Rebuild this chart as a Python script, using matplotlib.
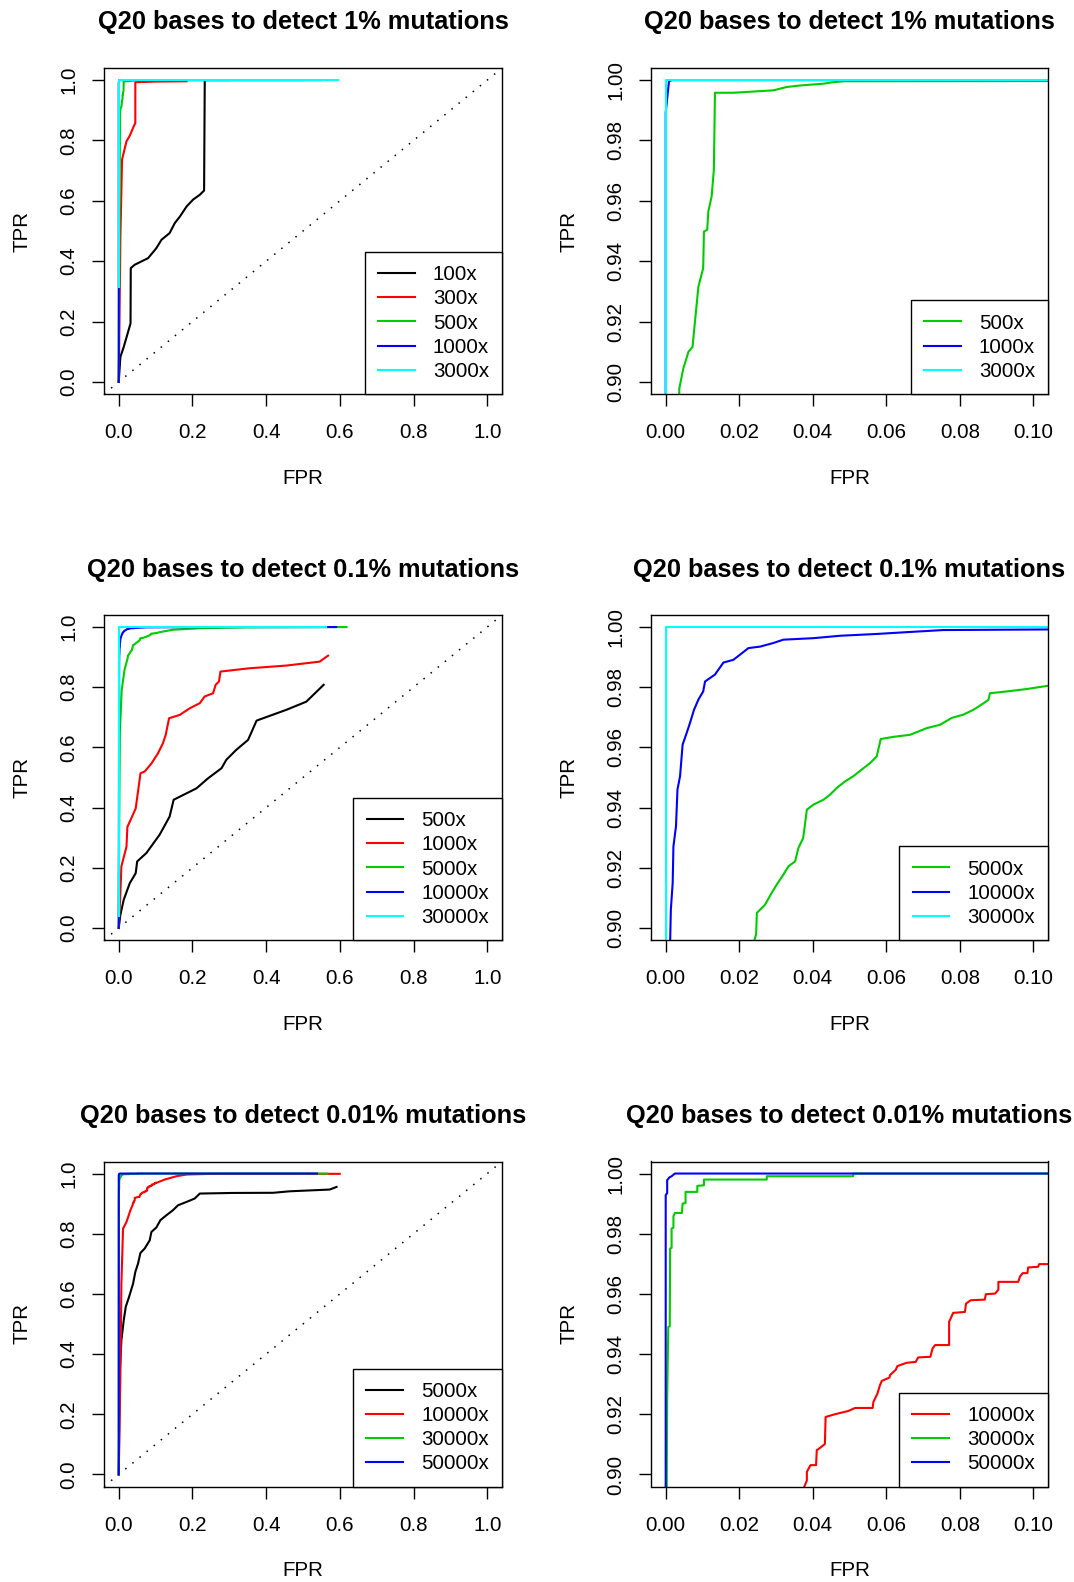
import numpy as np
import matplotlib.pyplot as plt

plt.rcParams['font.family'] = ['Liberation Sans', 'DejaVu Sans']

W, H = 1074, 1582

# ---------------------------------------------------------------------------
# ROC points (FPR, TPR)
# ---------------------------------------------------------------------------
# 1% mutations
fpr_1_100x = [0, 0.0045, 0.0136, 0.032, 0.0326, 0.043, 0.0796, 0.102, 0.116, 0.138,
              0.152, 0.166, 0.184, 0.2017, 0.22, 0.2316, 0.2334, 0.50]
tpr_1_100x = [0, 0.083, 0.116, 0.194, 0.377, 0.388, 0.41, 0.443, 0.471, 0.493,
              0.526, 0.548, 0.581, 0.604, 0.62, 0.634, 1.0, 1.0]
fpr_1_300x = [0, 0.002, 0.0045, 0.009, 0.021, 0.03, 0.039, 0.045, 0.045, 0.10, 0.184]
tpr_1_300x = [0, 0.2, 0.482, 0.737, 0.797, 0.816, 0.842, 0.858, 0.993, 0.995, 0.996]
fpr_1_500x = [0, 0.0015, 0.0037, 0.0048, 0.0062, 0.0073, 0.008, 0.0089, 0.0102, 0.0104,
              0.0113, 0.0116, 0.0125, 0.0131, 0.0134, 0.0184, 0.0293, 0.0329, 0.0365,
              0.0429, 0.0456, 0.0485, 0.3]
tpr_1_500x = [0, 0.5, 0.8978, 0.9045, 0.910, 0.9116, 0.9205, 0.9316, 0.9377, 0.9498,
              0.9504, 0.9565, 0.9615, 0.9703, 0.9958, 0.9958, 0.9966, 0.9977, 0.9982,
              0.9988, 0.9993, 0.9996, 1.0]
fpr_1_1000x = [0, 0.0, 0.0009, 0.0018, 0.55]
tpr_1_1000x = [0, 0.9892, 0.99967, 1.0, 1.0]
fpr_1_3000x = [0, 0, 0.594]
tpr_1_3000x = [0.316, 1.0, 1.0]

# 0.1% mutations
fpr_01_500x = [0, 0.0045, 0.0136, 0.03, 0.046, 0.05, 0.075, 0.111, 0.138, 0.149, 0.211,
               0.242, 0.279, 0.292, 0.319, 0.351, 0.374, 0.455, 0.509, 0.556]
tpr_01_500x = [0, 0.044, 0.094, 0.149, 0.182, 0.221, 0.249, 0.31, 0.37, 0.426, 0.464,
               0.497, 0.531, 0.559, 0.592, 0.625, 0.689, 0.725, 0.752, 0.808]
fpr_01_1000x = [0, 0.0045, 0.0072, 0.021, 0.0235, 0.034, 0.046, 0.059, 0.0705, 0.089,
                0.1067, 0.12, 0.1275, 0.1366, 0.1655, 0.1927, 0.22, 0.233, 0.256, 0.263,
                0.272, 0.276, 0.355, 0.455, 0.545, 0.568]
tpr_01_1000x = [0, 0.117, 0.205, 0.27, 0.336, 0.364, 0.397, 0.514, 0.52, 0.547,
                0.581, 0.614, 0.642, 0.697, 0.708, 0.730, 0.747, 0.769, 0.780, 0.808,
                0.819, 0.852, 0.863, 0.872, 0.885, 0.905]
fpr_01_5000x = [0, 0.001, 0.003, 0.008, 0.016, 0.0246, 0.0248, 0.027, 0.0288, 0.0302,
                0.032, 0.0334, 0.0352, 0.0361, 0.0374, 0.0384, 0.0402, 0.0429, 0.0447,
                0.0465, 0.0488, 0.051, 0.0533, 0.0556, 0.0574, 0.0585, 0.0619, 0.0665,
                0.071, 0.0746, 0.0778, 0.081, 0.0837, 0.0855, 0.0878, 0.0882, 0.0928,
                0.0982, 0.1041, 0.111, 0.147, 0.22, 0.35, 0.618]
tpr_01_5000x = [0, 0.3, 0.65, 0.79, 0.86, 0.898, 0.905, 0.9077, 0.9116, 0.9144,
                0.9177, 0.9205, 0.9221, 0.9266, 0.9299, 0.9393, 0.941, 0.9426, 0.9443,
                0.9465, 0.9487, 0.9504, 0.9526, 0.9548, 0.957, 0.9628, 0.9635, 0.9642,
                0.9664, 0.9675, 0.9698, 0.9709, 0.9725, 0.9739, 0.9758, 0.978, 0.9786,
                0.9794, 0.9805, 0.983, 0.991, 0.996, 0.999, 1.0]
fpr_01_10000x = [0, 0.001, 0.0012, 0.0014, 0.0019, 0.0021, 0.0028, 0.0032, 0.0039, 0.0046,
                 0.0057, 0.0066, 0.0077, 0.0089, 0.0102, 0.0107, 0.0134, 0.0157, 0.0184,
                 0.0202, 0.0225, 0.0257, 0.0293, 0.032, 0.0402, 0.0474, 0.0574, 0.0656,
                 0.0755, 0.1041, 0.25, 0.59]
tpr_01_10000x = [0, 0.85, 0.895, 0.9061, 0.915, 0.9271, 0.9338, 0.946, 0.9504, 0.9609,
                 0.9648, 0.9681, 0.9725, 0.9759, 0.9786, 0.9819, 0.9842, 0.9882, 0.9891,
                 0.9908, 0.993, 0.9935, 0.9947, 0.9958, 0.9963, 0.9971, 0.9977, 0.9983,
                 0.999, 0.9992, 0.9998, 1.0]
fpr_01_30000x = [0, 0, 0.5636]
tpr_01_30000x = [0.04, 1.0, 1.0]

# 0.01% mutations
fpr_001_5000x = [0, 0.0027, 0.0072, 0.0136, 0.019, 0.028, 0.039, 0.045, 0.0524, 0.0588,
                 0.0705, 0.084, 0.0887, 0.102, 0.113, 0.129, 0.147, 0.161, 0.184, 0.206,
                 0.22, 0.31, 0.419, 0.464, 0.5725, 0.591]
tpr_001_5000x = [0, 0.3355, 0.446, 0.5126, 0.557, 0.590, 0.6346, 0.673, 0.701, 0.736,
                 0.751, 0.778, 0.806, 0.8206, 0.845, 0.861, 0.878, 0.8947, 0.9057, 0.9169,
                 0.9335, 0.9355, 0.936, 0.941, 0.9468, 0.9555]
fpr_001_10000x = [0, 0.0045, 0.0072, 0.0117, 0.021, 0.0317, 0.0384, 0.0384, 0.0394, 0.0409,
                  0.0411, 0.0415, 0.0433, 0.0435, 0.046, 0.0497, 0.0515, 0.0563, 0.0565,
                  0.0576, 0.0583, 0.0588, 0.0609, 0.061, 0.0626, 0.063, 0.0655, 0.068,
                  0.0687, 0.072, 0.0726, 0.0733, 0.0771, 0.0771, 0.0782, 0.0814, 0.0817,
                  0.083, 0.0868, 0.0871, 0.0896, 0.0905, 0.0905, 0.0959, 0.0964, 0.0971,
                  0.0984, 0.0986, 0.1013, 0.1016, 0.1041, 0.1248, 0.1565, 0.184, 0.25, 0.5997]
tpr_001_10000x = [0, 0.3355, 0.6346, 0.817, 0.839, 0.878, 0.898, 0.9009, 0.9031, 0.9031,
                  0.9081, 0.9084, 0.9101, 0.9191, 0.92, 0.9211, 0.9221, 0.9221, 0.9241,
                  0.9269, 0.9297, 0.9311, 0.9322, 0.933, 0.9348, 0.936, 0.9371, 0.9374,
                  0.9389, 0.9391, 0.9419, 0.943, 0.943, 0.9507, 0.9537, 0.954, 0.9568,
                  0.9579, 0.9581, 0.9599, 0.9601, 0.9614, 0.964, 0.964, 0.9658, 0.9669,
                  0.9669, 0.9688, 0.969, 0.9699, 0.9699, 0.98, 0.991, 0.9967, 0.999, 0.999]
fpr_001_30000x = [0, 0.0003, 0.0004, 0.0007, 0.0011, 0.0012, 0.0016, 0.0016, 0.0021, 0.0021,
                  0.0025, 0.0044, 0.0046, 0.0054, 0.0054, 0.0086, 0.0086, 0.0104, 0.0104,
                  0.0275, 0.0275, 0.051, 0.051, 0.566]
tpr_001_30000x = [0, 0.9, 0.9252, 0.949, 0.9492, 0.9751, 0.9753, 0.9817, 0.982, 0.9858,
                  0.9869, 0.9869, 0.99, 0.9902, 0.9939, 0.9939, 0.9959, 0.9961, 0.998,
                  0.998, 0.9991, 0.9991, 1.0, 1.0]
fpr_001_50000x = [0, 0, 0.0004, 0.0004, 0.001, 0.0016, 0.0025, 0.538]
tpr_001_50000x = [0, 0.9928, 0.9935, 0.9978, 0.9987, 0.9991, 1.0, 1.0]

titles = ['Q20 bases to detect 1% mutations',
          'Q20 bases to detect 0.1% mutations',
          'Q20 bases to detect 0.01% mutations']

full_ticks = [0, 0.2, 0.4, 0.6, 0.8, 1.0]
zoom_xticks = [0, 0.02, 0.04, 0.06, 0.08, 0.10]
zoom_yticks = [0.90, 0.92, 0.94, 0.96, 0.98, 1.00]

BLACK, RED, GREEN, BLUE, CYAN = 'black', '#FF0000', '#00CD00', '#0000FF', '#00FFFF'

rows = [
    [(fpr_1_100x, tpr_1_100x, BLACK, '100x'),
     (fpr_1_300x, tpr_1_300x, RED, '300x'),
     (fpr_1_500x, tpr_1_500x, GREEN, '500x'),
     (fpr_1_1000x, tpr_1_1000x, BLUE, '1000x'),
     (fpr_1_3000x, tpr_1_3000x, CYAN, '3000x')],
    [(fpr_01_500x, tpr_01_500x, BLACK, '500x'),
     (fpr_01_1000x, tpr_01_1000x, RED, '1000x'),
     (fpr_01_5000x, tpr_01_5000x, GREEN, '5000x'),
     (fpr_01_10000x, tpr_01_10000x, BLUE, '10000x'),
     (fpr_01_30000x, tpr_01_30000x, CYAN, '30000x')],
    [(fpr_001_5000x, tpr_001_5000x, BLACK, '5000x'),
     (fpr_001_10000x, tpr_001_10000x, RED, '10000x'),
     (fpr_001_30000x, tpr_001_30000x, GREEN, '30000x'),
     (fpr_001_50000x, tpr_001_50000x, BLUE, '50000x')],
]
# the zoomed panels only show the better-covered curves
zoom_curves = [[2, 3, 4], [2, 3, 4], [1, 2, 3]]

FS = 14.8
TITLE_FS = 18.3
LW = 1.5

fig = plt.figure(figsize=(W / 100, H / 100), dpi=100)


def add_ax(x, y, w, h):
    return fig.add_axes([x / W, 1 - (y + h) / H, w / W, h / H])


def style_axes(ax, xlim, ylim, xt, yt, fmt, h_px, w_px):
    # R-style 4% padding around the data range
    for setter, (lo, hi) in [(ax.set_xlim, xlim), (ax.set_ylim, ylim)]:
        pad = 0.04 * (hi - lo)
        setter(lo - pad, hi + pad)
    ax.set_xticks(xt)
    ax.set_xticklabels([fmt.format(t) for t in xt])
    ax.set_yticks(yt)
    ax.set_yticklabels([fmt.format(t) for t in yt])
    for s in ['top', 'right', 'bottom', 'left']:
        ax.spines[s].set_linewidth(1.0)
    ax.tick_params(direction='out', length=8.6, width=1.0, labelsize=FS)
    ax.tick_params(axis='x', pad=12.5)
    ax.tick_params(axis='y', pad=10, labelrotation=90)
    for lab in ax.get_yticklabels():
        lab.set_va('center')
    ax.set_xlabel('FPR', fontsize=FS)
    ax.set_ylabel('TPR', fontsize=FS)
    ax.xaxis.set_label_coords(0.5, -84 / h_px)
    ax.xaxis.label.set_va('center')
    ax.yaxis.set_label_coords(-82 / w_px, 0.5)
    ax.yaxis.label.set_va('center')


def add_legend(ax):
    leg = ax.legend(loc='lower right', fontsize=FS, frameon=True, fancybox=False,
                    framealpha=1, edgecolor='black', borderaxespad=0,
                    borderpad=0.64, labelspacing=0.25, handlelength=1.78,
                    handletextpad=0.88)
    leg.get_frame().set_linewidth(1.0)


def add_title(ax, text, h_px):
    ax.text(0.5, 1 + 38.5 / h_px, text, transform=ax.transAxes,
            ha='center', va='baseline', fontsize=TITLE_FS, fontweight='bold')


row_tops = [68, 615, 1161.5]
row_h = [326, 325, 325]

for r in range(3):
    # full-range panel
    ax = add_ax(104, row_tops[r], 398, row_h[r])
    ax.axline((0, 0), (1, 1), color='black', lw=1.1, linestyle=(0, (1, 5)))
    for fpr, tpr, col, lab in rows[r]:
        ax.plot(fpr, tpr, color=col, lw=LW, label=lab)
    style_axes(ax, (0, 1), (0, 1), full_ticks, full_ticks, '{:.1f}', row_h[r], 398)
    add_legend(ax)
    add_title(ax, titles[r], row_h[r])

    # zoomed panel
    ax = add_ax(651, row_tops[r], 397, row_h[r])
    for i in zoom_curves[r]:
        fpr, tpr, col, lab = rows[r][i]
        ax.plot(fpr, tpr, color=col, lw=LW, label=lab)
    style_axes(ax, (0, 0.1), (0.9, 1.0), zoom_xticks, zoom_yticks, '{:.2f}',
               row_h[r], 397)
    add_legend(ax)
    add_title(ax, titles[r], row_h[r])

fig.savefig('out.png', dpi=100)
plt.close(fig)
